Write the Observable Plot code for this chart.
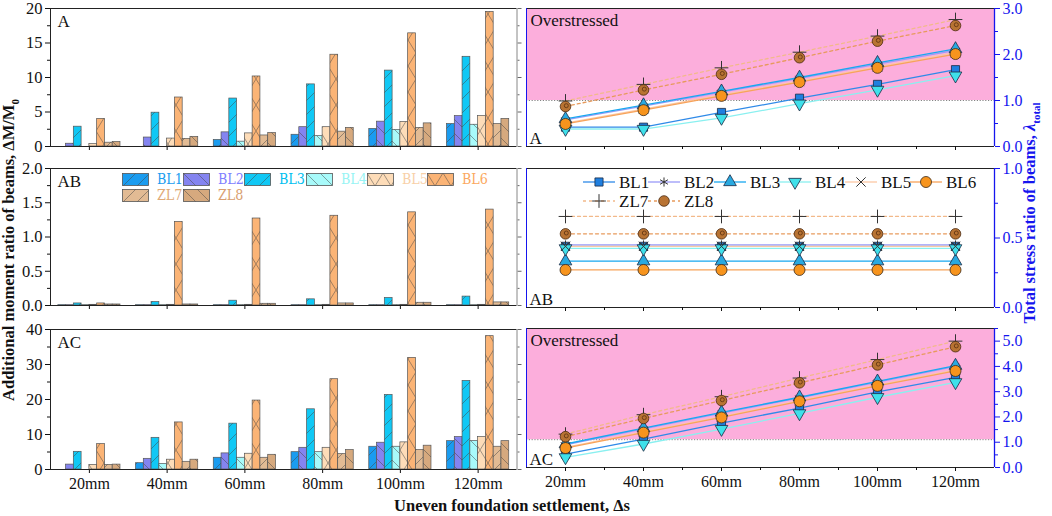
<!DOCTYPE html>
<html><head><meta charset="utf-8">
<script src="https://cdn.jsdelivr.net/npm/d3@7"></script>
<script src="https://cdn.jsdelivr.net/npm/@observablehq/plot@0.6"></script>
<style>
body{margin:0;background:#fff;}
#root{position:relative;width:1052px;height:516px;font-family:"Liberation Serif","Times New Roman",serif;overflow:hidden;background:#fff;}
.lab{position:absolute;white-space:nowrap;font-weight:bold;font-size:16.5px;transform:translate(-50%,-50%);}
.leg{position:absolute;white-space:nowrap;line-height:1;}
</style></head><body>
<svg width="0" height="0" style="position:absolute">
<defs>
<pattern id="hfwd" patternUnits="userSpaceOnUse" width="14" height="14"><path d="M-2,2L2,-2M0,14L14,0M12,16L16,12" stroke="#444" stroke-width="0.7" stroke-opacity="0.7" fill="none"/></pattern>
<pattern id="hbwd" patternUnits="userSpaceOnUse" width="14" height="14"><path d="M-2,12L2,16M0,0L14,14M12,-2L16,2" stroke="#444" stroke-width="0.7" stroke-opacity="0.7" fill="none"/></pattern>
<pattern id="hcross" patternUnits="userSpaceOnUse" width="16" height="26"><path d="M0,0L16,26M16,0L0,26" stroke="#444" stroke-width="0.7" stroke-opacity="0.7" fill="none"/></pattern>
</defs></svg>
<div id="root"></div>
<script>
// ---------- data ----------
const settleLabels = ["20mm","40mm","60mm","80mm","100mm","120mm"];
const settleMM = [20,40,60,80,100,120];
const beams = ["BL1","BL2","BL3","BL4","BL5","BL6","ZL7","ZL8"];

// additional moment ratio ΔM/M0 (rows = beams, cols = settlement)
const momentA = [
  [0, 0, 0.95, 1.7, 2.55, 3.25],
  [0.4, 1.3, 2.05, 2.8, 3.6, 4.4],
  [2.87, 4.9, 6.95, 9.0, 11.0, 13.0],
  [0, 0, 0.7, 1.5, 2.4, 3.15],
  [0.35, 1.15, 1.9, 2.8, 3.55, 4.4],
  [4.0, 7.1, 10.15, 13.3, 16.4, 19.5],
  [0.55, 1.1, 1.6, 2.15, 2.7, 3.25],
  [0.65, 1.4, 1.95, 2.7, 3.35, 4.0]
];
const momentAB = [
  [0.005, 0.005, 0.005, 0.005, 0.005, 0.005],
  [0.005, 0.005, 0.005, 0.005, 0.005, 0.005],
  [0.03, 0.05, 0.07, 0.09, 0.11, 0.13],
  [0.005, 0.005, 0.005, 0.005, 0.005, 0.005],
  [0.01, 0.01, 0.01, 0.01, 0.01, 0.01],
  [0.03, 1.22, 1.27, 1.31, 1.36, 1.40],
  [0.015, 0.015, 0.025, 0.03, 0.04, 0.045],
  [0.015, 0.015, 0.025, 0.03, 0.04, 0.045]
];
const momentAC = [
  [0, 1.8, 3.35, 4.95, 6.5, 8.1],
  [1.4, 3.05, 4.6, 6.2, 7.65, 9.25],
  [5.05, 9.05, 13.1, 17.2, 21.3, 25.3],
  [0, 1.6, 3.35, 4.95, 6.5, 8.1],
  [1.3, 2.8, 4.5, 6.2, 7.75, 9.25],
  [7.25, 13.45, 19.7, 25.8, 31.9, 38.1],
  [1.3, 2.2, 3.35, 4.4, 5.55, 6.5],
  [1.4, 2.8, 4.2, 5.55, 6.8, 8.1]
];
// total stress ratio λtotal
const stressA = [
  [0.42, 0.42, 0.74, 1.05, 1.35, 1.67],
  [0.58, 0.88, 1.18, 1.48, 1.79, 2.09],
  [0.60, 0.90, 1.20, 1.50, 1.82, 2.12],
  [0.38, 0.38, 0.62, 0.93, 1.23, 1.54],
  [0.51, 0.81, 1.12, 1.42, 1.73, 2.04],
  [0.49, 0.79, 1.10, 1.40, 1.71, 2.01],
  [0.99, 1.35, 1.71, 2.05, 2.40, 2.76],
  [0.87, 1.23, 1.57, 1.93, 2.29, 2.63]
];
const stressAB = [
  [0.44, 0.44, 0.44, 0.44, 0.44, 0.44],
  [0.45, 0.45, 0.45, 0.45, 0.45, 0.45],
  [0.333, 0.333, 0.333, 0.333, 0.333, 0.333],
  [0.425, 0.425, 0.425, 0.425, 0.425, 0.425],
  [0.44, 0.44, 0.44, 0.44, 0.44, 0.44],
  [0.27, 0.27, 0.27, 0.27, 0.27, 0.27],
  [0.655, 0.655, 0.655, 0.655, 0.655, 0.655],
  [0.53, 0.53, 0.53, 0.53, 0.53, 0.53]
];
const stressAC = [
  [0.53, 1.12, 1.76, 2.35, 2.99, 3.57],
  [0.90, 1.53, 2.15, 2.76, 3.38, 4.00],
  [0.93, 1.56, 2.18, 2.78, 3.41, 4.03],
  [0.40, 0.93, 1.52, 2.14, 2.78, 3.37],
  [0.80, 1.41, 2.01, 2.65, 3.26, 3.86],
  [0.77, 1.38, 1.98, 2.62, 3.23, 3.82],
  [1.32, 2.09, 2.80, 3.54, 4.27, 5.00],
  [1.22, 1.94, 2.65, 3.35, 4.06, 4.78]
];
const overLimitA = 1.0, overLimitAC = 1.1;

// ticks
const xDomain = [10, 130];
const xMinor = [30, 50, 70, 90, 110];
const ticksMA = [0,5,10,15,20], minorMA = [2.5,7.5,12.5,17.5];
const ticksMAB = [0,0.5,1,1.5,2], minorMAB = [0.25,0.75,1.25,1.75];
const ticksMAC = [0,10,20,30,40], minorMAC = [5,15,25,35];
const ticksSA = [0,1,2,3], minorSA = [0.5,1.5,2.5];
const ticksSAB = [0,0.5,1], minorSAB = [0.25,0.75];
const ticksSAC = [0,1,2,3,4,5], minorSAC = [0.5,1.5,2.5,3.5,4.5,5.5];

// ---------- styles ----------
const FONT = '"Liberation Serif","Times New Roman",serif';
const barColors = ["#1a9cf0","#8484f0","#10c8f5","#a8fafa","#fddcb8","#fbb476","#e2bb94","#d6a97e"];
const barHatch = ["hfwd","hbwd","hfwd","hbwd","hcross","hcross","hfwd","hbwd"];
const legendText = ["#1a9cf0","#8080ff","#00c0f0","#98f4f4","#f8d0a8","#fba860","#e0aa78","#d89e70"];
const lineColors = ["#2f8ae8","#9a9af8","#18a8f0","#8af0f0","#fcc8a4","#f7a35a","#f2b98a","#e79a5c"];
const lineDash = [null,null,null,null,null,null,"3,3","3,3"];
const markSym = ["square","asterisk","triangle","triangle","times","circle","plus","circle"];
const markRot = [0,0,0,180,0,0,0,0];
const markR = [4.6,4.3,4.7,4.7,4.3,5.5,4.5,5.3];
const markFill = ["#1f7fe0","none","#29a9e0","#3fe0ea","none","#f7941d","none","#b87333"];
const markStroke = ["#1a2a44","#333","#1a2a44","#1a2a44","#333","#3a2a1a","#333","#4a2a10"];
const BLUE = "#1515ee";
const PINK = "#fcaedc";

const root = document.getElementById("root");
function place(el, left, top){ el.style.position="absolute"; el.style.left=left+"px"; el.style.top=top+"px"; root.append(el); }
function rowsOf(values){ return beams.flatMap((b,k)=>settleMM.map((mm,i)=>({beam:b,k,mm,label:settleLabels[i],v:values[k][i]}))); }

const GROUP = 16, BARW = GROUP/beams.length;

function barPanel({values, yMax, ticks, minor, fmt, tag, top, height, mt, mb, showX}){
  const rows = rowsOf(values);
  const x1 = d => d.mm - GROUP/2 + d.k*BARW;
  const x2 = d => d.mm - GROUP/2 + (d.k+1)*BARW;
  const marks = [];
  beams.forEach((b,k)=>{
    const data = rows.filter(r=>r.k===k);
    marks.push(Plot.rect(data,{x1,x2,y1:()=>0,y2:"v",fill:barColors[k],stroke:"#555",strokeWidth:0.7}));
    marks.push(Plot.rect(data,{x1,x2,y1:()=>0,y2:"v",fill:`url(#${barHatch[k]})`}));
  });
  marks.push(
    Plot.axisY({ticks, tickSize:5, tickPadding:3, tickFormat:fmt, label:null, fontSize:16.5}),
    Plot.axisY({ticks:minor, tickSize:3, tickFormat:()=>"", label:null}),
    Plot.axisY({anchor:"right", ticks, tickSize:4, tickFormat:()=>"", label:null, stroke:"#666"}),
    Plot.axisY({anchor:"right", ticks:minor, tickSize:2, tickFormat:()=>"", label:null, stroke:"#666"}),
    Plot.axisX({ticks:settleMM, tickSize:4, tickPadding:4, tickFormat: showX ? d=>settleLabels[settleMM.indexOf(d)] : ()=>"", label:null}),
    Plot.ruleY([yMax],{stroke:"#222"}),
    Plot.ruleY([0],{stroke:"#222"}),
    Plot.ruleX([xDomain[0]],{stroke:"#222"}),
    Plot.ruleX([xDomain[1]],{stroke:"#888"}),
    Plot.text([tag],{frameAnchor:"top-left",textAnchor:"start",lineAnchor:"top",dx:7,dy:6,fontSize:17,fill:"#111"})
  );
  const p = Plot.plot({
    width:530, height, marginLeft:50, marginRight:13.5, marginTop:mt, marginBottom:mb,
    x:{type:"linear", domain:xDomain},
    y:{domain:[0,yMax], nice:false},
    style:{fontFamily:FONT, fontSize:"16px", background:"transparent", overflow:"visible", color:"#111"},
    marks
  });
  place(p, 0, top);
}

function linePanel({values, yMax, ticks, minor, limit, tag, top, height, mt, mb, showX}){
  const rows = rowsOf(values);
  const marks = [];
  if (limit != null) {
    marks.push(Plot.rect([limit],{x1:()=>xDomain[0], x2:()=>xDomain[1], y1:d=>d, y2:()=>yMax, fill:PINK}));
    marks.push(Plot.ruleY([limit],{stroke:"#777", strokeWidth:0.9, strokeDasharray:"1.2,1.6"}));
  }
  beams.forEach((b,k)=>{
    const data = rows.filter(r=>r.k===k);
    marks.push(Plot.line(data,{x:"mm", y:"v", stroke:lineColors[k], strokeWidth:1.3, strokeDasharray:lineDash[k]}));
  });
  beams.forEach((b,k)=>{
    const data = rows.filter(r=>r.k===k);
    const o = {x:"mm", y:"v", symbol:markSym[k], r:markR[k], fill:markFill[k], stroke:markStroke[k], strokeWidth: markFill[k]==="none" ? 1 : 0.8};
    if (markRot[k]) o.rotate = markRot[k];
    marks.push(Plot.dot(data,o));
    if (b==="ZL8") marks.push(Plot.dot(data,{x:"mm", y:"v", r:2, dx:0.8, dy:-0.8, fill:"none", stroke:"#5a3010", strokeWidth:0.8}));
  });
  marks.push(
    Plot.ruleY([yMax],{stroke:"#222", strokeWidth:1.2}),
    Plot.ruleY([0],{stroke:"#222"}),
    Plot.ruleX([xDomain[0]],{stroke:BLUE}),
    Plot.ruleX([xDomain[1]],{stroke:BLUE, strokeWidth:1.3}),
    Plot.axisY({anchor:"right", ticks, tickSize:5, tickPadding:3, tickFormat:d3.format(".1f"), label:null, color:BLUE}),
    Plot.axisY({anchor:"right", ticks:minor, tickSize:3, tickFormat:()=>"", label:null, color:BLUE}),
    Plot.axisX({ticks:settleMM, tickSize:4, tickPadding:4, tickFormat: showX ? d=>settleLabels[settleMM.indexOf(d)] : ()=>"", label:null}),
    Plot.axisX({ticks:xMinor, tickSize:3, tickFormat:()=>"", label:null})
  );
  if (limit != null) marks.push(Plot.text(["Overstressed"],{frameAnchor:"top-left",textAnchor:"start",lineAnchor:"top",dx:4,dy:5,fontSize:17,fill:"#111"}));
  marks.push(Plot.text([tag],{frameAnchor:"bottom-left",textAnchor:"start",lineAnchor:"bottom",dx:3,dy:-3,fontSize:17,fill:"#111"}));
  const p = Plot.plot({
    width:536, height, marginLeft:10, marginRight:58, marginTop:mt, marginBottom:mb,
    x:{type:"linear", domain:xDomain},
    y:{domain:[0,yMax], nice:false},
    style:{fontFamily:FONT, fontSize:"16px", background:"transparent", overflow:"visible", color:"#111"},
    marks
  });
  place(p, 516, top);
}

// left (bar) panels
barPanel({values:momentA, yMax:20, ticks:ticksMA, minor:minorMA, fmt:d3.format("d"), tag:"A", top:1, height:151, mt:7, mb:6, showX:false});
barPanel({values:momentAB, yMax:2, ticks:ticksMAB, minor:minorMAB, fmt:d3.format(".1f"), tag:"AB", top:160, height:152, mt:8, mb:7, showX:false});
barPanel({values:momentAC, yMax:40, ticks:ticksMAC, minor:minorMAC, fmt:d3.format("d"), tag:"AC", top:320, height:180, mt:9, mb:31, showX:true});
// right (line) panels
linePanel({values:stressA, yMax:3, ticks:ticksSA, minor:minorSA, limit:overLimitA, tag:"A", top:1, height:151, mt:7, mb:6, showX:false});
linePanel({values:stressAB, yMax:1, ticks:ticksSAB, minor:minorSAB, limit:null, tag:"AB", top:160, height:152, mt:8, mb:5, showX:false});
linePanel({values:stressAC, yMax:5.5, ticks:ticksSAC, minor:minorSAC, limit:overLimitAC, tag:"AC", top:320, height:180, mt:8, mb:33, showX:true});

// ---------- legends ----------
const barLegPos = [[122,173],[183,173],[244,173],[306,173],[367,173],[427,173],[122,189],[183,189]];
beams.forEach((b,k)=>{
  const [x,y] = barLegPos[k];
  const s = d3.create("svg").attr("width",27).attr("height",13);
  s.append("rect").attr("x",0.5).attr("y",0.5).attr("width",26).attr("height",12).attr("fill",barColors[k]).attr("stroke","#555").attr("stroke-width",0.8);
  s.append("rect").attr("x",0.5).attr("y",0.5).attr("width",26).attr("height",12).attr("fill",`url(#${barHatch[k]})`);
  place(s.node(), x, y);
  const t = document.createElement("div"); t.className="leg"; t.textContent=b;
  t.style.color = legendText[k]; t.style.fontSize="15px"; t.style.fontFamily='"DejaVu Serif",serif';
  t.style.transform="scaleX(0.85)"; t.style.transformOrigin="left center";
  place(t, x+35, y-1);
});
const lineLegPos = [[583,182],[648,182],[714,182],[779,182],[845,182],[910,182],[583,201],[648,201]];
beams.forEach((b,k)=>{
  const [x,y] = lineLegPos[k];
  const s = d3.create("svg").attr("width",34).attr("height",16).style("overflow","visible");
  s.append("line").attr("x1",0).attr("x2",32).attr("y1",8).attr("y2",8).attr("stroke",lineColors[k]).attr("stroke-width",1.3).attr("stroke-dasharray",lineDash[k]);
  const sym = {square:d3.symbolSquare, asterisk:d3.symbolAsterisk, triangle:d3.symbolTriangle, times:d3.symbolTimes, circle:d3.symbolCircle, plus:d3.symbolPlus}[markSym[k]];
  s.append("path").attr("d", d3.symbol(sym, markR[k]*markR[k]*Math.PI)()).attr("transform",`translate(16,8) rotate(${markRot[k]})`)
    .attr("fill",markFill[k]).attr("stroke",markStroke[k]).attr("stroke-width",markFill[k]==="none"?1:0.8);
  place(s.node(), x, y-8);
  const t = document.createElement("div"); t.className="leg"; t.textContent=b;
  t.style.color="#111"; t.style.fontSize="17px";
  place(t, x+36, y-8);
});

// ---------- axis titles ----------
function label(html, cx, cy, rot, color){
  const d = document.createElement("div"); d.className="lab"; d.innerHTML=html;
  d.style.left=cx+"px"; d.style.top=cy+"px"; d.style.color=color;
  d.style.transform = `translate(-50%,-50%)` + (rot ? ` rotate(${rot}deg)` : "");
  root.append(d);
}
label("Additional moment ratio of beams, ΔM/M<sub style='font-size:11px'>0</sub>", 10, 250, -90, "#111");
label("Total stress ratio of beams, <i>λ</i><sub style='font-size:11px'>total</sub>", 1031, 213, -90, BLUE);
label("Uneven foundation settlement, Δs", 512, 506, 0, "#111");
</script>
</body></html>
